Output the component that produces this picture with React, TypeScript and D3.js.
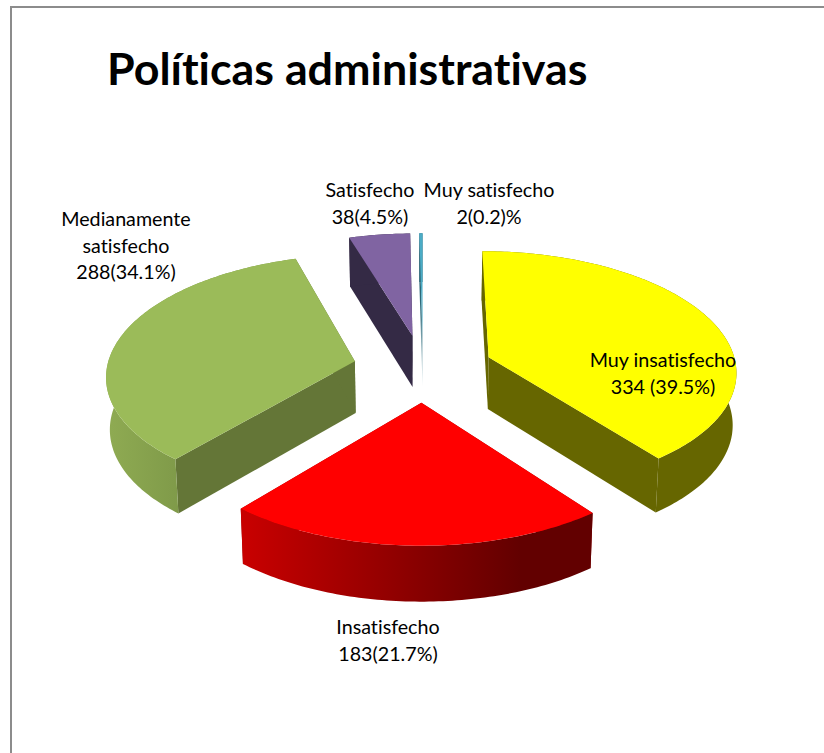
import React from "react";
import * as d3 from "d3";

// Survey answers and their drawn labels
const categories = ["Muy insatisfecho", "Insatisfecho", "Medianamente satisfecho", "Satisfecho", "Muy satisfecho"];
const counts = [334, 183, 288, 38, 2];
const labelLines = [
  ["Muy insatisfecho", "334 (39.5%)"],
  ["Insatisfecho", "183(21.7%)"],
  ["Medianamente", "satisfecho", "288(34.1%)"],
  ["Satisfecho", "38(4.5%)"],
  ["Muy satisfecho", "2(0.2)%"],
];
const labelAnchors: [number, number][] = [
  [663, 367],
  [388, 634],
  [126, 226],
  [370, 197],
  [489, 197],
];
const topColors = ["#FFFF00", "#FF0000", "#9BBB59", "#8064A2", "#4BACC6"];
const cutColors = ["#666600", "#990000", "#647637", "#342A45", "#2C6878"];
const drawOrder = [3, 4, 2, 0, 1];

// Projection of the tilted disc
const W = 824;
const H = 753;
const cx = 423;
const cy = 368;
const R = 248;
const explode = 70;
const tilt = 0.482;
const persp = 0.000432;
const thickness = 52;
const FONT = "Lato, Carlito, sans-serif";

const scale = (y: number) => 1 / (1 + persp * y);

function project(x: number, y: number, lower: boolean): [number, number] {
  const s = scale(y);
  const sx = cx + x * s * (lower ? 0.988 : 1);
  const sy = cy - tilt * y * s + (lower ? thickness * Math.sqrt(s) : 0);
  return [sx, sy];
}

const pieLayout = d3.pie<number>().sort(null).startAngle(0).endAngle(2 * Math.PI);
const slices = pieLayout(counts);
const pathOf = d3.line<[number, number]>();

function arcPoints(i: number): [number, number][] {
  const a0 = slices[i].startAngle;
  const a1 = slices[i].endAngle;
  const mid = (a0 + a1) / 2;
  const ox = explode * Math.sin(mid);
  const oy = explode * Math.cos(mid);
  const steps = Math.max(2, Math.ceil((a1 - a0) * 60));
  return d3.range(steps + 1).map((k) => {
    const a = a0 + ((a1 - a0) * k) / steps;
    return [ox + R * Math.sin(a), oy + R * Math.cos(a)] as [number, number];
  });
}

function apexPoint(i: number): [number, number] {
  const mid = (slices[i].startAngle + slices[i].endAngle) / 2;
  return [explode * Math.sin(mid), explode * Math.cos(mid)];
}

function Slice({ i }: { i: number }) {
  const rim = arcPoints(i);
  const apex = apexPoint(i);
  const top = (p: [number, number]) => project(p[0], p[1], false);
  const low = (p: [number, number]) => project(p[0], p[1], true);
  const face = [top(apex), ...rim.map(top)];
  const first = rim[0];
  const last = rim[rim.length - 1];
  const cutA = [top(apex), top(first), low(first), low(apex)];
  const cutB = [top(apex), top(last), low(last), low(apex)];
  const wall = [...rim.map(top), ...rim.map(low).reverse()];
  const wallFill = i === 1 ? "url(#wallRed)" : i === 2 ? "url(#wallGreen)" : cutColors[i];
  const cutFill = i === 4 ? "url(#wallTeal)" : cutColors[i];
  return (
    <g>
      <path d={pathOf(cutA) + "Z"} fill={cutFill} />
      <path d={pathOf(cutB) + "Z"} fill={cutFill} />
      <path d={pathOf(wall) + "Z"} fill={wallFill} />
      <path d={pathOf(face) + "Z"} fill={topColors[i]} />
    </g>
  );
}

export default function App() {
  return (
    <svg
      width={W}
      height={H}
      viewBox={`0 0 ${W} ${H}`}
      style={{ position: "absolute", left: 0, top: 0, background: "#fff", fontVariantLigatures: "none" }}
    >
      <defs>
        <linearGradient id="wallRed" gradientUnits="userSpaceOnUse" x1={244} x2={590} y1={0} y2={0}>
          <stop offset="0" stopColor="#C80000" />
          <stop offset="0.8" stopColor="#620000" />
          <stop offset="1" stopColor="#620000" />
        </linearGradient>
        <linearGradient id="wallGreen" gradientUnits="userSpaceOnUse" x1={102} x2={180} y1={0} y2={0}>
          <stop offset="0" stopColor="#90AC53" />
          <stop offset="1" stopColor="#7F9A49" />
        </linearGradient>
        <linearGradient id="wallTeal" gradientUnits="userSpaceOnUse" x1={0} x2={0} y1={300} y2={385}>
          <stop offset="0" stopColor="#2C6878" />
          <stop offset="1" stopColor="#D5E4E8" />
        </linearGradient>
      </defs>
      <rect width={W} height={H} fill="#fff" />
      <path d={`M11 ${H}V7H${W}`} fill="none" stroke="#8C8C8C" strokeWidth={2} />
      <text x={107} y={85} fontFamily={FONT} fontWeight={700} fontSize={44.8} fill="#000">
        Políticas administrativas
      </text>
      {drawOrder.map((i) => (
        <Slice key={categories[i]} i={i} />
      ))}
      {labelLines.map((lines, i) => (
        <text
          key={categories[i]}
          x={labelAnchors[i][0]}
          y={labelAnchors[i][1]}
          textAnchor="middle"
          fontFamily={FONT}
          fontSize={19.7}
          fill="#000"
        >
          {lines.map((line, j) => (
            <tspan key={line} x={labelAnchors[i][0]} dy={j === 0 ? 0 : 26.5}>
              {line}
            </tspan>
          ))}
        </text>
      ))}
    </svg>
  );
}
